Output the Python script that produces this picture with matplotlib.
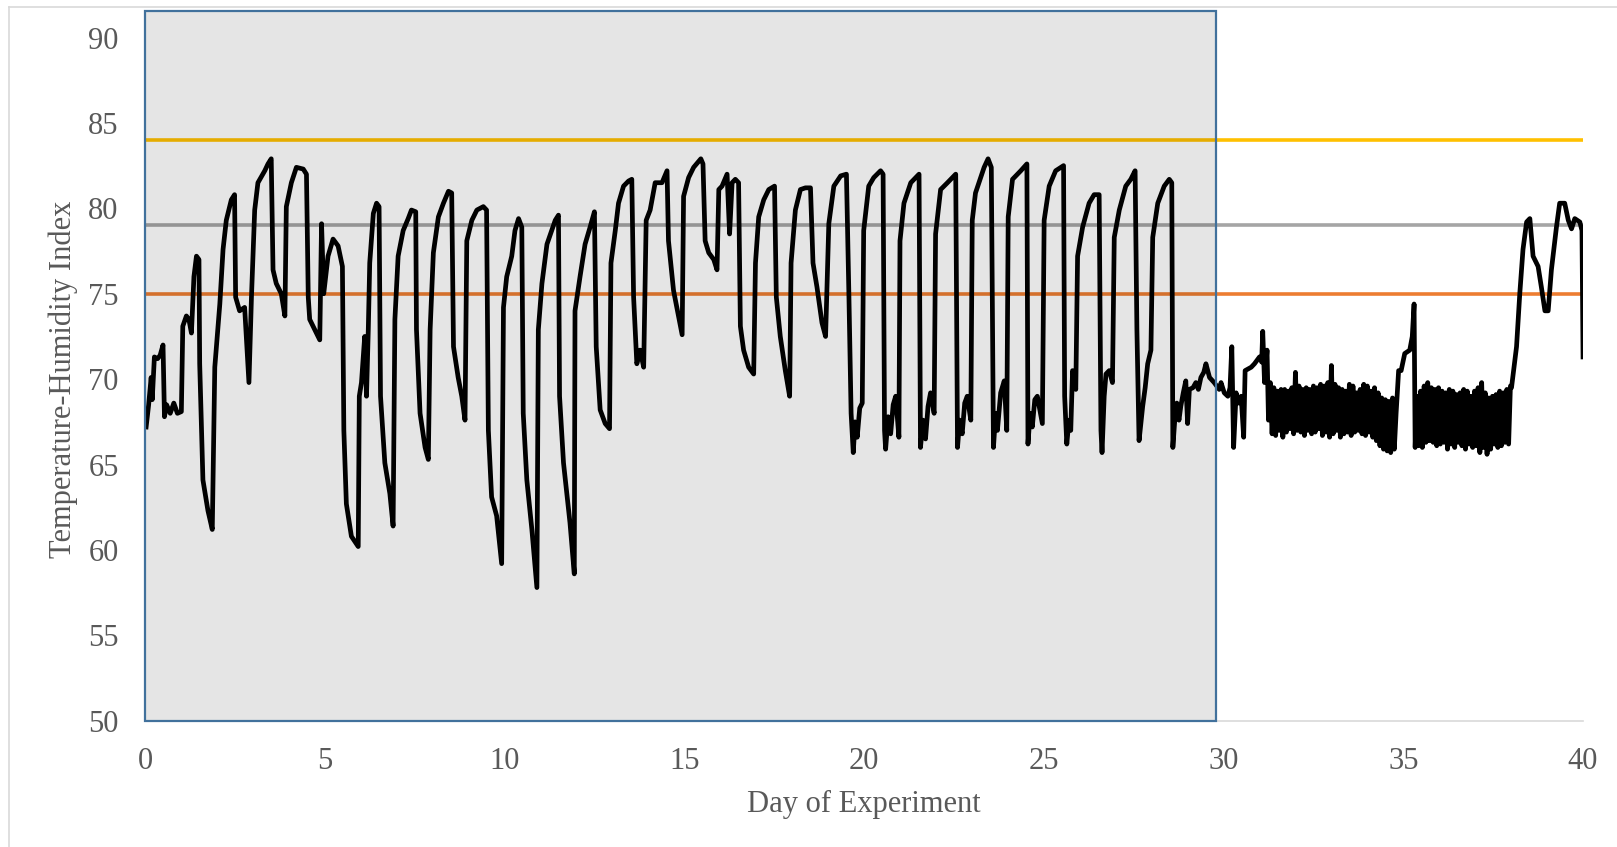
import matplotlib
matplotlib.use("Agg")
import matplotlib.pyplot as plt
from matplotlib.patches import Rectangle
from matplotlib.lines import Line2D

plt.rcParams['font.family'] = ['Liberation Serif', 'DejaVu Serif']

# THI readings, days 0 - 31.25
early_days = [0.03, 0.10, 0.17, 0.20, 0.26, 0.35, 0.42, 0.50, 0.54, 0.60, 0.70, 0.80, 0.90, 1.01,
              1.05, 1.15, 1.22, 1.29, 1.36, 1.43, 1.50, 1.52, 1.61, 1.75, 1.87, 1.94, 2.08, 2.17,
              2.26, 2.40, 2.49, 2.52, 2.63, 2.77, 2.89, 2.96, 3.05, 3.14, 3.33, 3.42, 3.51, 3.56,
              3.65, 3.79, 3.89, 3.93, 4.07, 4.21, 4.40, 4.49, 4.54, 4.58, 4.72, 4.86, 4.91, 4.97,
              5.09, 5.23, 5.37, 5.49, 5.53, 5.60, 5.74, 5.93, 5.96, 6.02, 6.11, 6.16, 6.21, 6.25,
              6.35, 6.44, 6.51, 6.55, 6.67, 6.81, 6.90, 6.95, 7.04, 7.18, 7.32, 7.41, 7.53, 7.55,
              7.65, 7.79, 7.88, 7.93, 8.02, 8.16, 8.30, 8.44, 8.53, 8.58, 8.71, 8.81, 8.90, 8.95,
              9.09, 9.23, 9.41, 9.50, 9.55, 9.64, 9.78, 9.92, 9.97, 10.06, 10.20, 10.29, 10.39,
              10.48, 10.52, 10.62, 10.76, 10.90, 10.94, 11.04, 11.18, 11.31, 11.41, 11.50, 11.53,
              11.64, 11.82, 11.94, 11.96, 12.10, 12.24, 12.38, 12.50, 12.55, 12.66, 12.80, 12.92,
              12.96, 13.08, 13.17, 13.31, 13.45, 13.54, 13.59, 13.68, 13.77, 13.87, 13.94, 14.05,
              14.19, 14.38, 14.52, 14.56, 14.70, 14.84, 14.94, 14.98, 15.12, 15.26, 15.46, 15.52,
              15.58, 15.68, 15.82, 15.91, 15.96, 16.05, 16.19, 16.26, 16.33, 16.42, 16.51, 16.56,
              16.65, 16.79, 16.93, 16.98, 17.07, 17.21, 17.35, 17.51, 17.56, 17.67, 17.81, 17.93,
              17.97, 18.09, 18.23, 18.37, 18.51, 18.58, 18.69, 18.83, 18.93, 19.02, 19.16, 19.35,
              19.51, 19.58, 19.64, 19.70, 19.75, 19.81, 19.88, 19.95, 19.99, 20.13, 20.27, 20.46,
              20.53, 20.57, 20.60, 20.67, 20.74, 20.81, 20.88, 20.97, 21.00, 21.11, 21.30, 21.53,
              21.57, 21.64, 21.71, 21.78, 21.85, 21.95, 21.99, 22.13, 22.32, 22.55, 22.60, 22.66,
              22.73, 22.80, 22.87, 22.97, 23.01, 23.10, 23.34, 23.45, 23.54, 23.60, 23.66, 23.71,
              23.80, 23.90, 23.97, 24.01, 24.13, 24.36, 24.53, 24.56, 24.62, 24.68, 24.75, 24.82,
              24.96, 25.01, 25.15, 25.33, 25.55, 25.58, 25.64, 25.70, 25.75, 25.80, 25.89, 25.94,
              26.08, 26.26, 26.40, 26.54, 26.59, 26.62, 26.68, 26.73, 26.82, 26.91, 26.96, 27.10,
              27.28, 27.42, 27.54, 27.59, 27.65, 27.75, 27.82, 27.89, 27.98, 28.03, 28.17, 28.35,
              28.49, 28.56, 28.59, 28.64, 28.70, 28.76, 28.81, 28.88, 28.95, 29.00, 29.05, 29.15,
              29.23, 29.30, 29.37, 29.45, 29.51, 29.61, 29.74, 29.88, 29.93, 30.02, 30.12, 30.18,
              30.23, 30.28, 30.35, 30.42, 30.49, 30.56, 30.60, 30.77, 30.86, 31.00, 31.06, 31.09,
              31.14, 31.21, 31.25]
early_thi = [67.2, 68.5, 70.1, 68.8, 71.3, 71.2, 71.4, 72.0, 67.8, 68.5, 68.0, 68.6, 68.0, 68.1,
             73.1, 73.7, 73.5, 72.7, 76.0, 77.2, 77.0, 70.9, 64.1, 62.3, 61.2, 70.7, 74.4, 77.6,
             79.3, 80.5, 80.8, 74.8, 74.0, 74.2, 69.8, 74.8, 79.9, 81.5, 82.2, 82.6, 82.9, 76.4,
             75.6, 75.0, 73.7, 80.1, 81.5, 82.4, 82.3, 82.0, 74.8, 73.5, 72.9, 72.3, 79.1, 75.0,
             77.2, 78.2, 77.8, 76.6, 67.0, 62.7, 60.8, 60.2, 69.0, 69.8, 72.5, 69.0, 72.9, 76.8,
             79.7, 80.3, 80.1, 69.0, 65.1, 63.3, 61.4, 73.5, 77.2, 78.7, 79.4, 79.9, 79.8, 72.9,
             68.0, 66.0, 65.3, 72.9, 77.4, 79.5, 80.3, 81.0, 80.9, 71.9, 70.1, 69.0, 67.6, 78.1,
             79.3, 79.9, 80.1, 79.9, 67.0, 63.1, 62.0, 59.2, 74.2, 76.0, 77.2, 78.7, 79.4,
             78.9, 68.0, 64.1, 61.2, 57.8, 72.9, 75.6, 77.9, 78.7, 79.3, 79.6, 69.0,
             65.1, 61.6, 58.6, 74.0, 76.0, 77.9, 78.9, 79.8, 71.9, 68.2, 67.4, 67.1,
             76.8, 78.7, 80.3, 81.3, 81.6, 81.7, 74.8, 70.9, 71.7, 70.7, 79.3, 79.9,
             81.5, 81.5, 82.2, 78.1, 75.2, 73.7, 72.6, 80.7, 81.8, 82.4, 82.9, 82.6,
             78.1, 77.4, 77.0, 76.4, 81.1, 81.3, 82.0, 78.5, 81.5, 81.7, 81.5, 73.1,
             71.7, 70.7, 70.3, 76.8, 79.5, 80.5, 81.1, 81.3, 74.8, 72.5, 70.5, 69.0,
             76.8, 79.9, 81.1, 81.2, 81.2, 76.8, 75.4, 73.3, 72.5, 79.1, 81.3, 81.9,
             82.0, 74.8, 68.0, 65.7, 67.5, 66.6, 68.3, 68.6, 78.7, 81.3, 81.8, 82.2,
             82.0, 67.0, 65.9, 67.8, 66.8, 68.5, 69.0, 66.6, 78.1, 80.3, 81.5, 82.0,
             66.0, 67.6, 66.5, 68.4, 69.2, 68.0, 78.5, 81.1, 81.5, 82.0, 66.0, 67.6,
             66.8, 68.6, 69.0, 67.6, 79.3, 80.9, 82.4, 82.9, 82.4, 66.0, 68.0, 67.0,
             69.2, 69.9, 67.0, 79.5, 81.7, 82.2, 82.6, 66.2, 68.0, 67.2, 68.8, 69.0,
             67.4, 79.3, 81.3, 82.2, 82.5, 69.0, 66.2, 67.6, 67.0, 70.5, 69.4, 77.2,
             78.9, 80.3, 80.8, 80.8, 67.0, 65.7, 69.0, 70.3, 70.5, 69.8, 78.3, 79.9,
             81.3, 81.7, 82.2, 72.9, 66.4, 68.4, 69.5, 70.9, 71.7, 78.3, 80.3, 81.3,
             81.7, 81.5, 66.0, 67.5, 68.6, 67.6, 68.4, 69.2, 69.9, 67.4, 69.4, 69.5,
             69.8, 69.4, 70.1, 70.4, 70.9, 70.1, 69.8, 69.4, 69.8, 69.2, 69.0, 69.5,
             71.9, 66.0, 69.2, 68.6, 69.0, 66.6, 70.5, 70.7, 70.9, 71.3, 71.0, 72.8,
             69.8, 71.7, 67.6]

# dense fluctuation, days 31.3 - 34.75
band1_days = [31.30, 31.35, 31.40, 31.45, 31.50, 31.55, 31.60, 31.65, 31.70, 31.75,
              31.80, 31.85, 31.90, 31.95, 32.00, 32.05, 32.10, 32.15, 32.20, 32.25,
              32.30, 32.35, 32.40, 32.45, 32.50, 32.55, 32.60, 32.65, 32.70, 32.75,
              32.80, 32.85, 32.90, 32.95, 33.00, 33.05, 33.10, 33.15, 33.20, 33.25,
              33.30, 33.35, 33.40, 33.45, 33.50, 33.55, 33.60, 33.65, 33.70, 33.75,
              33.80, 33.85, 33.90, 33.95, 34.00, 34.05, 34.10, 34.15, 34.20, 34.25,
              34.30, 34.35, 34.40, 34.45, 34.50, 34.55, 34.60, 34.65, 34.70, 34.75]
band1_thi = [69.8, 66.8, 69.5, 66.7, 69.3, 67.0, 69.4, 66.6, 69.4, 66.9,
             69.3, 67.1, 69.5, 66.8, 70.4, 67.0, 69.6, 66.9, 69.4, 66.7,
             69.5, 67.0, 69.4, 66.8, 69.6, 66.9, 69.5, 67.1, 69.7, 66.7,
             69.6, 66.9, 69.8, 66.6, 70.8, 66.8, 69.7, 67.0, 69.5, 66.6,
             69.4, 66.8, 69.3, 66.9, 69.7, 66.7, 69.6, 66.9, 69.2, 67.0,
             69.4, 66.8, 69.7, 66.7, 69.6, 66.9, 69.3, 66.6, 69.5, 66.4,
             69.2, 66.1, 68.9, 65.9, 68.8, 65.8, 68.7, 65.7, 68.9, 65.9]

mid_days = [34.80, 34.87, 34.94, 35.04, 35.18, 35.25, 35.30, 35.33]
mid_thi = [68.0, 70.5, 70.5, 71.5, 71.7, 72.5, 74.4, 66.0]

# dense fluctuation, days 35.38 - 37.98
band2_days = [35.38, 35.43, 35.48, 35.53, 35.58, 35.63, 35.68, 35.73, 35.78, 35.83,
              35.88, 35.93, 35.98, 36.03, 36.08, 36.13, 36.18, 36.23, 36.28, 36.33,
              36.38, 36.43, 36.48, 36.53, 36.58, 36.63, 36.68, 36.73, 36.78, 36.83,
              36.88, 36.93, 36.98, 37.03, 37.08, 37.13, 37.18, 37.23, 37.28, 37.33,
              37.38, 37.43, 37.48, 37.53, 37.58, 37.63, 37.68, 37.73, 37.78, 37.83,
              37.88, 37.93, 37.98]
band2_thi = [69.0, 66.1, 69.3, 66.0, 69.6, 66.3, 69.8, 66.4, 69.5, 66.3,
             69.4, 66.1, 69.5, 66.2, 69.3, 66.3, 69.2, 65.9, 69.4, 66.2,
             69.3, 66.0, 69.1, 66.3, 69.2, 66.1, 69.4, 65.9, 69.3, 66.2,
             69.0, 66.0, 69.3, 66.1, 69.5, 65.7, 69.8, 66.0, 69.2, 65.6,
             68.9, 65.9, 69.0, 66.2, 69.1, 66.0, 69.3, 66.1, 69.2, 66.3,
             69.4, 66.2, 69.6]

late_days = [38.01, 38.15, 38.24, 38.33, 38.43, 38.52, 38.61, 38.75, 38.84, 38.94, 39.03,
             39.12, 39.26, 39.35, 39.49, 39.59, 39.68, 39.77, 39.91, 39.97, 40.00]
late_thi = [69.5, 71.9, 75.0, 77.6, 79.2, 79.4, 77.2, 76.6, 75.4, 74.0, 74.0,
            76.4, 78.9, 80.3, 80.3, 79.3, 78.8, 79.4, 79.2, 78.7, 71.3]

# threshold levels
thresholds = [84, 79, 75]
threshold_colors = ['#FFC000', '#A5A5A5', '#ED7D31']

# highlighted period
shade_end = 29.8

days = early_days + band1_days + mid_days + band2_days + late_days
thi = early_thi + band1_thi + mid_thi + band2_thi + late_thi

text_color = '#595959'

fig = plt.figure(figsize=(16.17, 8.47), dpi=100)
ax = fig.add_axes([0.0897, 0.149, 0.8893, 0.8067])

for level, col in zip(thresholds, threshold_colors):
    ax.axhline(level, color=col, linewidth=2.6, zorder=2, solid_capstyle='round')

ax.plot(days, thi, color='black', linewidth=3.4, zorder=3, solid_joinstyle='round')

# semi-transparent box over the first period
ax.add_patch(Rectangle((0, 50), shade_end, 41.55, facecolor='black', alpha=0.1,
                       edgecolor='none', zorder=4, clip_on=False))
ax.add_patch(Rectangle((0, 50), shade_end, 41.55, facecolor='none',
                       edgecolor='#41719C', linewidth=1.6, zorder=5, clip_on=False))

ax.set_xlim(0, 40)
ax.set_ylim(50, 90)
ax.set_xticks(range(0, 41, 5))
ax.set_yticks(range(50, 91, 5))
for s in ['left', 'top', 'right']:
    ax.spines[s].set_visible(False)
ax.spines['bottom'].set_color('#D9D9D9')
ax.spines['bottom'].set_linewidth(1.2)
ax.tick_params(length=0, labelsize=22, labelcolor=text_color, pad=19)

ax.set_xlabel('Day of Experiment', fontsize=22, color=text_color, labelpad=10)
ax.set_ylabel('Temperature-Humidity Index', fontsize=22, color=text_color, labelpad=7)

# chart frame
fig.add_artist(Line2D([8.5 / 1617, 8.5 / 1617], [0, 1 - 7.5 / 847], color='#D9D9D9', linewidth=1.2))
fig.add_artist(Line2D([8.5 / 1617, 1], [1 - 7.5 / 847, 1 - 7.5 / 847], color='#D9D9D9', linewidth=1.2))

fig.savefig('out.png', dpi=100)
